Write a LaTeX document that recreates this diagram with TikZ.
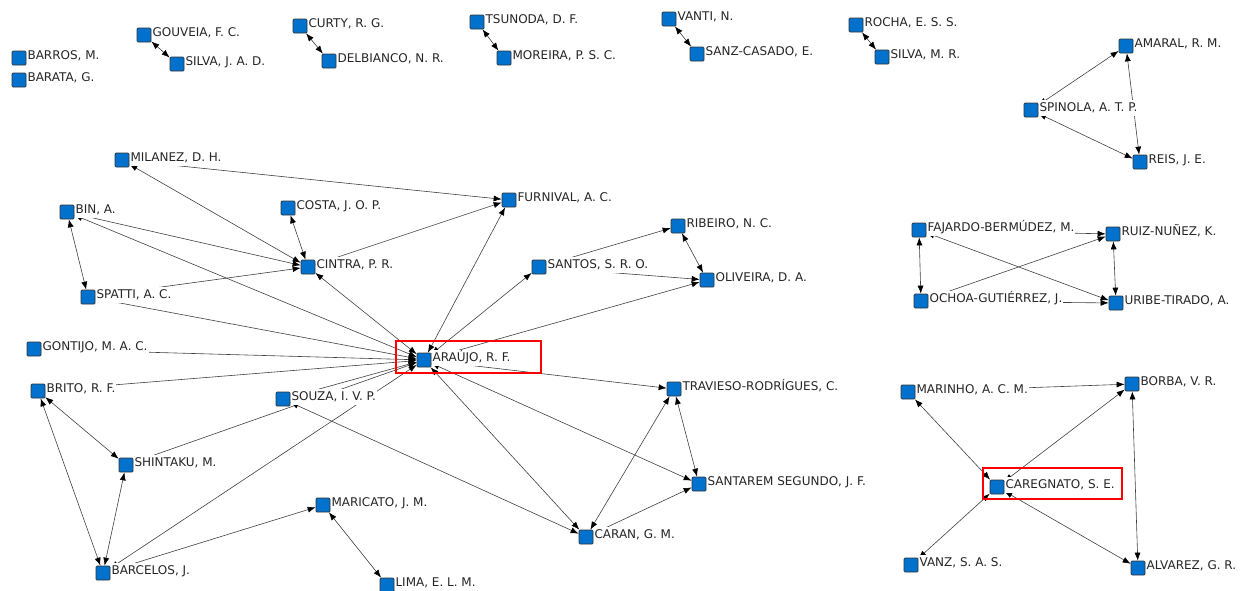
\documentclass[tikz,border=0pt]{standalone}
\usepackage{fontspec}
\setmainfont{DejaVu Sans}
\usetikzlibrary{arrows.meta,backgrounds}

\tikzset{
  author/.style={draw=black!80,fill=authorblue,line width=0.7pt,rounded corners=1pt,minimum size=14pt,inner sep=0pt},
  lbl/.style={fill=white,inner sep=1pt,text height=10.5pt,text depth=3.5pt,yshift=2pt,text=black!85,font=\fontsize{12}{13}\selectfont},
  tie/.style={<->,draw=black!75,line width=0.6pt},
  hilite/.style={draw=red,line width=1.8pt}
}
\definecolor{authorblue}{RGB}{0,114,206}

\begin{document}
\begin{tikzpicture}[x=1pt,y=-1pt,>={Latex[length=8pt,width=6pt,color=black]}]
\useasboundingbox (0,0) rectangle (1242,590);
%% small groups on top
\node[author,label={[lbl]right:BARROS, M.}] (barros) at (19,58) {};
\node[author,label={[lbl]right:BARATA, G.}] (barata) at (19,80) {};
\node[author,label={[lbl]right:GOUVEIA, F. C.}] (gouveia) at (144,35) {};
\node[author,label={[lbl]right:SILVA, J. A. D.}] (silvajad) at (177,64) {};
\node[author,label={[lbl]right:CURTY, R. G.}] (curty) at (300,26) {};
\node[author,label={[lbl]right:DELBIANCO, N. R.}] (delbianco) at (329,61) {};
\node[author,label={[lbl]right:TSUNODA, D. F.}] (tsunoda) at (477,22) {};
\node[author,label={[lbl]right:MOREIRA, P. S. C.}] (moreira) at (504,58) {};
\node[author,label={[lbl]right:VANTI, N.}] (vanti) at (669,19) {};
\node[author,label={[lbl]right:SANZ-CASADO, E.}] (sanz) at (697,54) {};
\node[author,label={[lbl]right:ROCHA, E. S. S.}] (rocha) at (856,25) {};
\node[author,label={[lbl]right:SILVA, M. R.}] (silvamr) at (882,57) {};
\node[author,label={[lbl]right:AMARAL, R. M.}] (amaral) at (1126,46) {};
\node[author,label={[lbl]right:SPINOLA, A. T. P.}] (spinola) at (1031,110) {};
\node[author,label={[lbl]right:REIS, J. E.}] (reis) at (1140,162) {};
%% main component
\node[author,label={[lbl]right:MILANEZ, D. H.}] (milanez) at (122,160) {};
\node[author,label={[lbl]right:BIN, A.}] (bin) at (67,212) {};
\node[author,label={[lbl]right:COSTA, J. O. P.}] (costa) at (288,208) {};
\node[author,label={[lbl]right:CINTRA, P. R.}] (cintra) at (308,267) {};
\node[author,label={[lbl]right:SPATTI, A. C.}] (spatti) at (88,297) {};
\node[author,label={[lbl]right:FURNIVAL, A. C.}] (furnival) at (509,200) {};
\node[author,label={[lbl]right:RIBEIRO, N. C.}] (ribeiro) at (678,226) {};
\node[author,label={[lbl]right:SANTOS, S. R. O.}] (santos) at (539,267) {};
\node[author,label={[lbl]right:OLIVEIRA, D. A.}] (oliveira) at (707,280) {};
\node[author,label={[lbl]right:GONTIJO, M. A. C.}] (gontijo) at (34,349) {};
\node[author,label={[lbl]right:BRITO, R. F.}] (brito) at (38,391) {};
\node[author,label={[lbl]right:SOUZA, I. V. P.}] (souza) at (283,399) {};
\node[author,label={[lbl]right:SHINTAKU, M.}] (shintaku) at (126,465) {};
\node[author,label={[lbl]right:MARICATO, J. M.}] (maricato) at (323,505) {};
\node[author,label={[lbl]right:BARCELOS, J.}] (barcelos) at (103,573) {};
\node[author,label={[lbl]right:LIMA, E. L. M.}] (lima) at (387,585) {};
\node[author,label={[lbl]right:ARAÚJO, R. F.}] (araujo) at (424,360) {};
\node[author,label={[lbl]right:TRAVIESO-RODRÍGUES, C.}] (travieso) at (674,389) {};
\node[author,label={[lbl]right:SANTAREM SEGUNDO, J. F.}] (santarem) at (699,484) {};
\node[author,label={[lbl]right:CARAN, G. M.}] (caran) at (586,537) {};
%% right groups
\node[author,label={[lbl]right:FAJARDO-BERMÚDEZ, M.}] (fajardo) at (919,230) {};
\node[author,label={[lbl]right:RUIZ-NUÑEZ, K.}] (ruiz) at (1113,234) {};
\node[author,label={[lbl]right:OCHOA-GUTIÉRREZ, J.}] (ochoa) at (921,301) {};
\node[author,label={[lbl]right:URIBE-TIRADO, A.}] (uribe) at (1116,303) {};
\node[author,label={[lbl]right:MARINHO, A. C. M.}] (marinho) at (908,392) {};
\node[author,label={[lbl]right:BORBA, V. R.}] (borba) at (1132,384) {};
\node[author,label={[lbl]right:CAREGNATO, S. E.}] (caregnato) at (997,487) {};
\node[author,label={[lbl]right:VANZ, S. A. S.}] (vanz) at (911,565) {};
\node[author,label={[lbl]right:ALVAREZ, G. R.}] (alvarez) at (1138,568) {};
%% boxes round the two hubs
\draw[hilite] (396,341) rectangle (541,373);
\draw[hilite] (983,468) rectangle (1122,499);
\begin{scope}[on background layer]
\draw[tie] (gouveia) -- (silvajad);
\draw[tie] (curty) -- (delbianco);
\draw[tie] (tsunoda) -- (moreira);
\draw[tie] (vanti) -- (sanz);
\draw[tie] (rocha) -- (silvamr);
\draw[tie] (spinola) -- (amaral);
\draw[tie] (amaral) -- (reis);
\draw[tie] (spinola) -- (reis);
%
\draw[tie] (milanez) -- (cintra);
\draw[tie] (milanez) -- (furnival);
\draw[tie] (bin) -- (spatti);
\draw[tie] (bin) -- (cintra);
\draw[tie] (bin) -- (araujo);
\draw[tie] (costa) -- (cintra);
\draw[tie] (spatti) -- (cintra);
\draw[tie] (spatti) -- (araujo);
\draw[tie] (cintra) -- (furnival);
\draw[tie] (cintra) -- (araujo);
\draw[tie] (furnival) -- (araujo);
\draw[tie] (araujo) -- (santos);
\draw[tie] (santos) -- (ribeiro);
\draw[tie] (santos) -- (oliveira);
\draw[tie] (ribeiro) -- (oliveira);
\draw[tie] (oliveira) -- (araujo);
\draw[tie] (gontijo) -- (araujo);
\draw[tie] (brito) -- (araujo);
\draw[tie] (brito) -- (shintaku);
\draw[tie] (brito) -- (barcelos);
\draw[tie] (shintaku) -- (barcelos);
\draw[tie] (shintaku) -- (araujo);
\draw[tie] (souza) -- (araujo);
\draw[tie] (souza) -- (caran);
\draw[tie] (barcelos) -- (araujo);
\draw[tie] (barcelos) -- (maricato);
\draw[tie] (maricato) -- (lima);
\draw[tie] (araujo) -- (travieso);
\draw[tie] (araujo) -- (santarem);
\draw[tie] (araujo) -- (caran);
\draw[tie] (travieso) -- (caran);
\draw[tie] (travieso) -- (santarem);
\draw[tie] (caran) -- (santarem);
%
\draw[tie] (fajardo) -- (ruiz);
\draw[tie] (fajardo) -- (ochoa);
\draw[tie] (ochoa) -- (ruiz);
\draw[tie] (fajardo) -- (uribe);
\draw[tie] (ochoa) -- (uribe);
\draw[tie] (ruiz) -- (uribe);
%
\draw[tie] (marinho) -- (borba);
\draw[tie] (marinho) -- (caregnato);
\draw[tie] (caregnato) -- (borba);
\draw[tie] (vanz) -- (caregnato);
\draw[tie] (caregnato) -- (alvarez);
\draw[tie] (borba) -- (alvarez);
\end{scope}
\end{tikzpicture}
\end{document}
